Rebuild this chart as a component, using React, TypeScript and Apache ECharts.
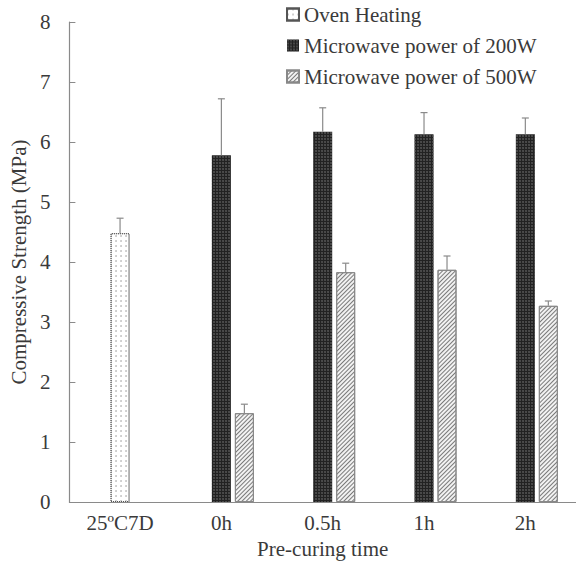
import React, { useEffect, useRef } from "react";
import * as echarts from "echarts";

const categories = ["25ºC7D", "0h", "0.5h", "1h", "2h"];
const ovenValues = [4.48, null, null, null, null];
const ovenErr = [0.25, null, null, null, null];
const mw200Values = [null, 5.78, 6.17, 6.13, 6.13];
const mw200Err = [null, 0.94, 0.4, 0.36, 0.27];
const mw500Values = [null, 1.48, 3.83, 3.87, 3.27];
const mw500Err = [null, 0.15, 0.15, 0.23, 0.08];
const yTicks = [0, 1, 2, 3, 4, 5, 6, 7, 8];

const FONT = "Liberation Serif";
const FS = 21;
const BAR_W = 19;
const GAP_PX = 4;

export default function App() {
  const ref = useRef<HTMLDivElement>(null);
  useEffect(() => {
    if (!ref.current) return;
    const chart = echarts.init(ref.current, null, { renderer: "svg" });
    const toData = (arr: (number | null)[]) => arr.map((v) => (v == null ? "-" : v));

    const errSeries = (vals: (number | null)[], errs: (number | null)[], slot: number) => ({
      type: "custom",
      silent: true,
      z: 5,
      data: vals
        .map((v, i) => (v == null ? null : [i, v, v + (errs[i] as number)]))
        .filter((d) => d !== null),
      renderItem: (params: any, api: any) => {
        const i = api.value(0);
        const p0 = api.coord([i, api.value(1)]);
        const p1 = api.coord([i, api.value(2)]);
        const x = p0[0] + slot * (BAR_W + GAP_PX);
        const style = { stroke: "#8a8a8a", lineWidth: 1.2 };
        return {
          type: "group",
          children: [
            { type: "line", shape: { x1: x, y1: p0[1], x2: x, y2: p1[1] }, style },
            { type: "line", shape: { x1: x - 3.5, y1: p1[1], x2: x + 3.5, y2: p1[1] }, style },
          ],
        };
      },
    });

    const ovenStyle = {
      color: "#ffffff",
      borderColor: "#555",
      borderWidth: 1,
      borderType: "dotted",
      decal: {
        symbol: "circle",
        symbolSize: 0.6,
        dashArrayX: [2, 3],
        dashArrayY: [2, 3],
        color: "#777",
      },
    };
    const darkStyle = {
      color: "#222222",
      decal: {
        symbol: "circle",
        symbolSize: 0.8,
        dashArrayX: [2, 1],
        dashArrayY: [2, 1],
        color: "#5e5e5e",
      },
    };
    const hatchStyle = {
      color: "#f2f2f2",
      borderColor: "#888",
      borderWidth: 1,
      decal: {
        symbol: "rect",
        symbolSize: 1,
        dashArrayX: [1, 0],
        dashArrayY: [1, 2],
        rotation: -Math.PI / 4,
        color: "#7a7a7a",
      },
    };

    chart.setOption({
      animation: false,
      aria: { enabled: false },
      textStyle: { fontFamily: FONT },
      grid: { left: 64, right: -1, top: 22, bottom: 67, containLabel: false },
      legend: {
        orient: "vertical",
        left: 281,
        top: -1,
        icon: "rect",
        itemWidth: 12,
        itemHeight: 12,
        itemGap: 10,
        itemTextGap: 3,
        textStyle: { fontFamily: FONT, fontSize: FS, color: "#3a3a3a" },
        data: ["Oven Heating", "Microwave power of 200W", "Microwave power of 500W"],
      },
      xAxis: {
        type: "category",
        data: categories,
        name: "Pre-curing time",
        nameLocation: "middle",
        nameGap: 36,
        nameTextStyle: { fontFamily: FONT, fontSize: FS, color: "#3a3a3a" },
        axisLine: { lineStyle: { color: "#8a8a8a", width: 1.2 } },
        axisTick: { show: false },
        axisLabel: { fontFamily: FONT, fontSize: FS, color: "#3a3a3a", margin: 10 },
      },
      yAxis: {
        type: "value",
        min: yTicks[0],
        max: yTicks[yTicks.length - 1],
        interval: 1,
        name: "Compressive Strength (MPa)",
        nameLocation: "middle",
        nameGap: 36,
        nameTextStyle: { fontFamily: FONT, fontSize: FS, color: "#3a3a3a" },
        splitLine: { show: false },
        axisLine: { show: true, lineStyle: { color: "#8a8a8a", width: 1.2 } },
        axisTick: { show: true, inside: true, length: 6, lineStyle: { color: "#8a8a8a" } },
        axisLabel: { fontFamily: FONT, fontSize: FS, color: "#3a3a3a", margin: 19 },
      },
      series: [
        {
          type: "bar",
          name: "_phantom",
          data: categories.map(() => "-"),
          barWidth: BAR_W,
          barGap: (GAP_PX / BAR_W) * 100 + "%",
        },
        {
          type: "bar",
          name: "Oven Heating",
          stack: "center",
          data: toData(ovenValues),
          barWidth: BAR_W,
          itemStyle: ovenStyle,
        },
        {
          type: "bar",
          name: "Microwave power of 200W",
          stack: "center",
          data: toData(mw200Values),
          barWidth: BAR_W,
          itemStyle: darkStyle,
        },
        {
          type: "bar",
          name: "Microwave power of 500W",
          data: toData(mw500Values),
          barWidth: BAR_W,
          barGap: (GAP_PX / BAR_W) * 100 + "%",
          itemStyle: hatchStyle,
        },
        errSeries(ovenValues, ovenErr, 0),
        errSeries(mw200Values, mw200Err, 0),
        errSeries(mw500Values, mw500Err, 1),
      ],
    });
    return () => chart.dispose();
  }, []);
  return (
    <div
      ref={ref}
      style={{ position: "fixed", left: 0, top: 0, width: 576, height: 569, background: "#fff" }}
    />
  );
}
